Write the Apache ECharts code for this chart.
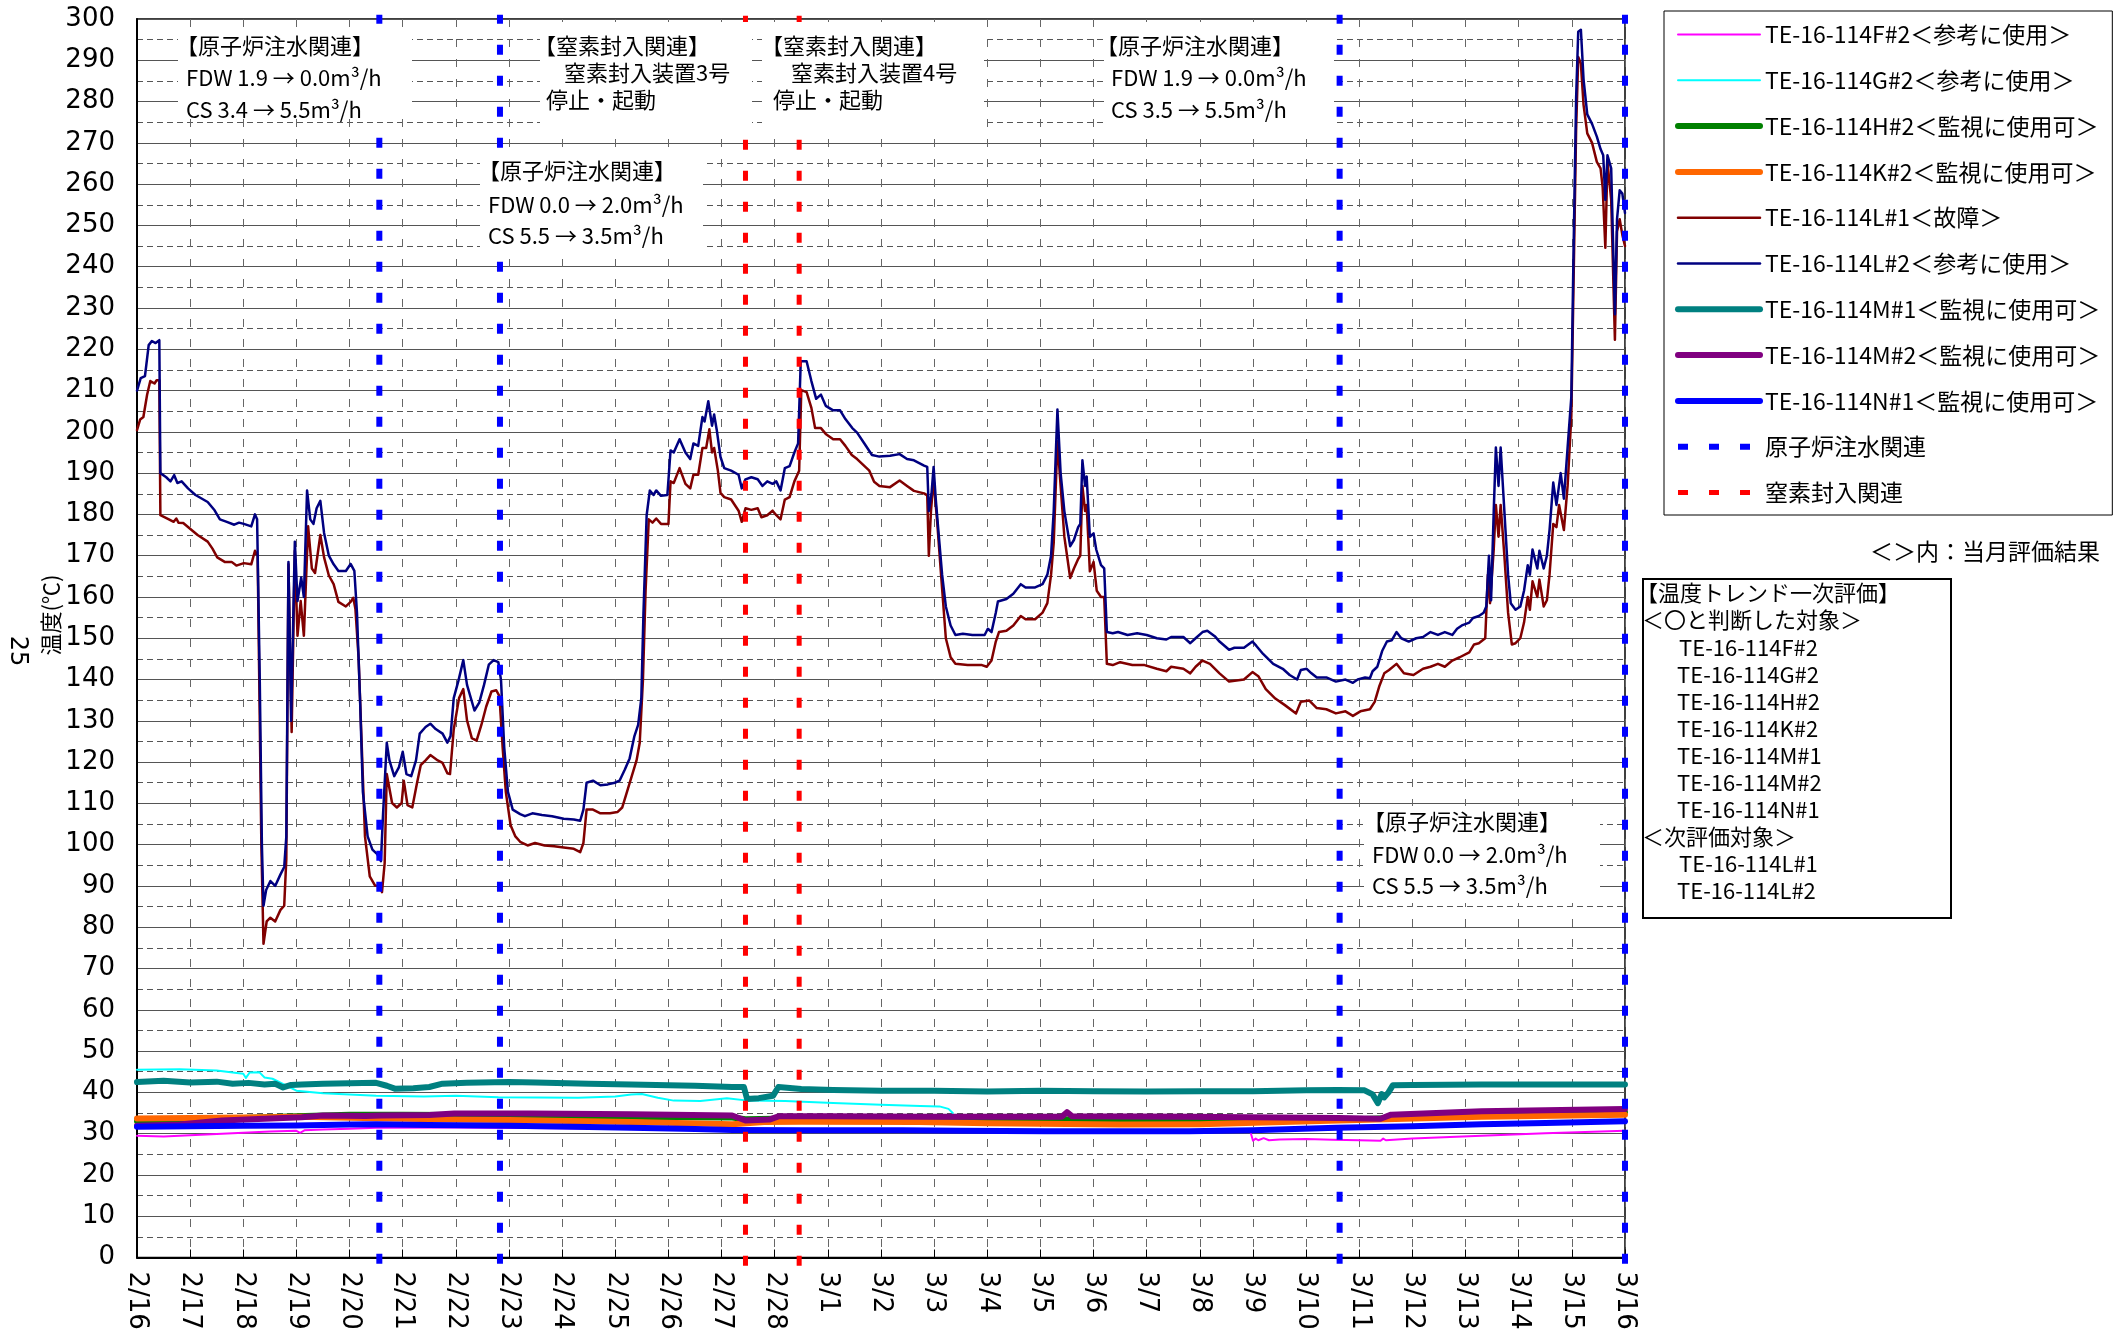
<!DOCTYPE html>
<html>
<head>
<meta charset="utf-8">
<title>温度トレンド</title>
<script src="https://cdn.jsdelivr.net/npm/echarts@6/dist/echarts.min.js"></script>
<style>
  html, body { margin: 0; padding: 0; background: #fff; }
  #chart { width: 2127px; height: 1340px; }
</style>
</head>
<body>
<div id="chart"></div>
<script>
// x = days after 2/16, y = temperature (℃)
const dateLabels = ['2/16','2/17','2/18','2/19','2/20','2/21','2/22','2/23','2/24','2/25','2/26','2/27','2/28',
  '3/1','3/2','3/3','3/4','3/5','3/6','3/7','3/8','3/9','3/10','3/11','3/12','3/13','3/14','3/15','3/16'];

const seriesNames = [
  'TE-16-114F#2＜参考に使用＞',
  'TE-16-114G#2＜参考に使用＞',
  'TE-16-114H#2＜監視に使用可＞',
  'TE-16-114K#2＜監視に使用可＞',
  'TE-16-114L#1＜故障＞',
  'TE-16-114L#2＜参考に使用＞',
  'TE-16-114M#1＜監視に使用可＞',
  'TE-16-114M#2＜監視に使用可＞',
  'TE-16-114N#1＜監視に使用可＞'
];
const injectName = '原子炉注水関連';
const nitrogenName = '窒素封入関連';

// event lines (days)
const injectDays = [4.56, 6.83, 22.63, 28.0];
const nitrogenDays = [11.45, 12.46];

const F2 = [[0,29.5],[0.5,29.3],[1,29.6],[1.5,29.9],[2,30.2],[2.5,30.5],[3.0,30.7],[3.07,30.2],[3.15,30.8],[3.5,31.0],[4.0,31.2],[4.5,31.4],[6,31.5],[8,31.3],[10,31.0],[12,30.9],[14,30.7],[16,30.6],[18,30.5],[20,30.6],[20.95,30.5],[21.0,28.3],[21.05,28.8],[21.1,28.4],[21.2,28.9],[21.3,28.4],[21.5,28.6],[22,28.7],[22.5,28.5],[23,28.4],[23.4,28.3],[23.45,28.8],[23.5,28.4],[24,28.8],[25.3,29.5],[26.5,30.1],[28,30.7]];

const G2 = [[0,45.5],[0.8,45.6],[1.5,45.3],[1.8,44.8],[2.0,44.5],[2.05,43.5],[2.12,44.8],[2.3,44.9],[2.4,43.6],[2.55,43.3],[3.0,40.4],[3.5,39.8],[4.5,39.2],[5.4,39.0],[6.0,39.2],[6.8,38.8],[8.3,38.7],[9.0,39.0],[9.3,39.5],[9.5,39.6],[9.8,38.7],[10.1,38.0],[10.6,37.9],[11.1,38.6],[11.5,38.0],[12.2,37.9],[13.1,37.4],[14.0,37.0],[14.74,36.7],[15.1,36.6],[15.27,36.0],[15.35,35.0]];

const H2 = [[0,33.0],[1,33.4],[2,33.8],[3,34.2],[4,34.6],[5,34.6],[6,34.5],[8,34.3],[10,34.0],[11.2,33.9],[11.45,33.5],[12,33.6],[13,33.7],[16,33.5],[20,33.4],[22.6,33.3],[23.35,33.7],[23.6,33.8],[25.3,34.6],[28,35.2]];

const K2 = [[0,33.7],[1,33.8],[2,33.9],[3.1,34.1],[4.5,33.7],[5.9,33.4],[7,33.3],[9.3,32.8],[11.2,32.3],[11.8,32.8],[12.5,32.9],[14.7,32.8],[16,32.5],[18.5,32.2],[20,32.3],[22.6,33.2],[25.3,34.1],[28,34.6]];

const L1 = [[0,200.4],[0.06,203],[0.12,203.6],[0.19,209],[0.25,212.3],[0.33,211.7],[0.37,212.5],[0.42,212.5],[0.44,179.8],[0.6,178.8],[0.69,178.2],[0.74,179],[0.78,178],[0.87,177.9],[1.01,176.4],[1.14,175],[1.33,173.4],[1.42,171.7],[1.51,169.6],[1.65,168.5],[1.78,168.5],[1.87,167.6],[2.01,168.2],[2.15,167.9],[2.22,171.2],[2.27,170],[2.3,140],[2.34,100],[2.38,76],[2.44,81.4],[2.51,82.3],[2.6,81.4],[2.7,84.2],[2.77,85.2],[2.81,96.6],[2.85,167.9],[2.91,127.3],[2.97,171.2],[3.02,150.6],[3.08,159],[3.14,150.6],[3.22,177.1],[3.29,166.9],[3.35,165.8],[3.45,175],[3.52,169.6],[3.61,165.2],[3.7,163.1],[3.79,158.8],[3.93,157.7],[4.02,158.8],[4.07,159.8],[4.11,157.1],[4.17,145.2],[4.23,123.6],[4.29,102],[4.38,92.3],[4.48,90.1],[4.57,89.9],[4.61,88.5],[4.66,95.5],[4.7,117.1],[4.8,110.1],[4.89,109],[4.98,110.1],[5.02,115.5],[5.09,109.6],[5.18,109],[5.27,115],[5.34,119.3],[5.43,120.4],[5.52,121.7],[5.66,120.4],[5.75,119.8],[5.84,117.3],[5.89,117.1],[5.96,127.9],[6.06,135.5],[6.14,137.7],[6.21,130.1],[6.3,125.8],[6.39,125.2],[6.48,129],[6.57,133.4],[6.67,137.1],[6.76,137.4],[6.82,136],[6.88,123.6],[6.94,112.8],[7.03,104.7],[7.12,102],[7.21,100.7],[7.35,99.8],[7.49,100.4],[7.67,99.8],[7.85,99.6],[8.03,99.3],[8.22,99],[8.34,98.2],[8.4,100.4],[8.46,108.5],[8.58,108.5],[8.72,107.6],[8.9,107.6],[9.04,107.9],[9.13,109],[9.22,112.8],[9.31,116.6],[9.4,120.4],[9.46,124.7],[9.52,139.8],[9.57,161.5],[9.63,178.8],[9.7,178],[9.77,179],[9.86,177.7],[10.0,177.7],[10.04,188],[10.1,187.6],[10.21,191.2],[10.32,187.4],[10.41,186.3],[10.47,189.6],[10.56,189.6],[10.64,196.1],[10.71,196.1],[10.77,200.6],[10.82,195],[10.86,196.1],[10.93,190.6],[10.98,185.2],[11.05,184.2],[11.18,183.6],[11.32,180.9],[11.38,178.2],[11.45,181.5],[11.56,181.1],[11.68,181.5],[11.75,179.3],[11.86,179.8],[11.96,180.9],[12.03,179.8],[12.11,178.8],[12.19,183.6],[12.28,184.2],[12.37,188],[12.46,190.6],[12.5,210.1],[12.6,209.6],[12.69,205.8],[12.76,200.9],[12.87,200.9],[12.96,199.5],[13.1,198.2],[13.23,198.2],[13.33,196.6],[13.45,194.4],[13.55,193.4],[13.69,191.7],[13.78,190.6],[13.87,187.9],[13.97,186.9],[14.17,186.6],[14.35,188.2],[14.49,186.9],[14.62,185.7],[14.81,185.1],[14.87,184.6],[14.9,170],[14.94,180.8],[14.99,188.5],[15.06,177.7],[15.13,165.4],[15.22,150],[15.31,145.4],[15.4,143.8],[15.63,143.5],[15.9,143.5],[15.99,143.1],[16.08,144.6],[16.16,149.2],[16.22,151.5],[16.36,151.8],[16.49,153.1],[16.63,155.4],[16.72,154.6],[16.9,154.6],[17.04,156.2],[17.13,158.5],[17.2,165.4],[17.25,173.1],[17.32,197.7],[17.38,186.9],[17.45,174.6],[17.56,164.6],[17.63,166.9],[17.71,169.2],[17.75,170],[17.79,186.9],[17.84,180.8],[17.87,182.3],[17.93,166.2],[18.0,168.5],[18.06,161.5],[18.14,160],[18.2,160],[18.25,143.8],[18.36,143.5],[18.5,144.2],[18.73,143.5],[18.96,143.5],[19.19,142.6],[19.37,142],[19.46,143.1],[19.69,142.6],[19.82,141.5],[19.92,143.1],[20.05,144.6],[20.19,143.8],[20.37,141.5],[20.55,139.5],[20.83,140],[20.99,141.8],[21.1,140.8],[21.24,137.7],[21.42,135.4],[21.6,133.8],[21.81,131.8],[21.9,134.6],[22.06,134.9],[22.2,133.1],[22.38,132.8],[22.56,131.8],[22.74,132.3],[22.88,131.2],[23.02,132.3],[23.2,132.8],[23.29,134.6],[23.38,138.5],[23.47,141.5],[23.56,142.3],[23.7,143.8],[23.84,141.5],[24.02,141.1],[24.2,142.6],[24.34,143.1],[24.48,143.8],[24.61,143.1],[24.75,144.6],[24.89,145.4],[25.07,146.6],[25.16,148.5],[25.25,148.8],[25.37,150],[25.42,165.4],[25.46,158.5],[25.53,171.5],[25.57,182.3],[25.62,174.6],[25.66,182.3],[25.73,170],[25.8,156.2],[25.87,148.5],[25.94,148.8],[26.03,150],[26.1,153.8],[26.17,160],[26.21,156.9],[26.26,163.8],[26.35,160],[26.39,164.2],[26.47,157.7],[26.53,159.2],[26.58,165.4],[26.65,177.7],[26.71,176.9],[26.76,182.3],[26.85,176.2],[26.92,186.9],[26.99,203.8],[27.03,234.6],[27.08,273.1],[27.12,290.8],[27.17,289.2],[27.22,279.2],[27.29,272.3],[27.38,270],[27.47,265.4],[27.54,263.8],[27.58,259.2],[27.63,244.6],[27.67,265.4],[27.74,256.2],[27.81,222.3],[27.85,248.5],[27.9,251.5],[27.95,247.7],[28.0,245]];

const L2 = [[0,210],[0.07,213],[0.15,213.5],[0.22,221],[0.28,222],[0.35,221.5],[0.42,222.2],[0.44,190],[0.55,189],[0.63,188],[0.7,189.5],[0.76,187.6],[0.84,188],[0.96,186.3],[1.1,184.7],[1.33,183],[1.46,181],[1.56,178.8],[1.69,178.2],[1.83,177.5],[1.92,178],[2.01,177.7],[2.15,177.1],[2.22,180],[2.26,178.8],[2.31,140],[2.35,100],[2.38,85.2],[2.43,89],[2.51,91.2],[2.6,90],[2.7,92.8],[2.77,94.6],[2.81,102],[2.85,168.5],[2.9,130],[2.97,173.4],[3.02,159],[3.09,164.7],[3.14,160],[3.2,185.8],[3.26,178.8],[3.32,177.7],[3.38,181.5],[3.45,183.3],[3.52,175.5],[3.61,170],[3.7,167.9],[3.79,166.3],[3.93,166.3],[4.02,168],[4.09,166.3],[4.14,156],[4.2,134],[4.25,112.8],[4.34,102],[4.43,98.8],[4.52,97.7],[4.59,96],[4.63,107.4],[4.7,124.7],[4.75,120.4],[4.84,116.6],[4.93,118.8],[5.0,122.5],[5.07,117.1],[5.16,116.6],[5.25,120.4],[5.32,126.9],[5.43,128.5],[5.52,129.3],[5.62,128],[5.75,126.9],[5.84,124.7],[5.9,126.3],[5.96,135.5],[6.05,139.8],[6.14,144.7],[6.21,138.7],[6.35,132.5],[6.44,134.4],[6.53,138.7],[6.62,143.6],[6.71,144.7],[6.8,144.2],[6.85,139.8],[6.91,123.6],[6.98,112.8],[7.07,108.5],[7.21,107.4],[7.3,106.9],[7.44,107.6],[7.62,107.2],[7.81,106.9],[8.03,106.3],[8.22,106.1],[8.34,105.8],[8.4,108.5],[8.46,115],[8.58,115.5],[8.72,114.4],[8.86,114.6],[8.99,115],[9.08,115.5],[9.18,118.2],[9.27,120.9],[9.36,126.3],[9.43,129],[9.49,135.5],[9.53,156],[9.59,179.8],[9.65,185.8],[9.72,184.7],[9.77,185.8],[9.86,184.5],[9.98,184.7],[10.04,195.5],[10.1,195],[10.21,198.2],[10.32,195],[10.41,193.4],[10.47,197.2],[10.56,196.6],[10.64,203.6],[10.68,202.5],[10.75,207.4],[10.82,201.5],[10.86,204.2],[10.91,200.4],[10.98,193.9],[11.05,191.2],[11.18,190.6],[11.32,189.6],[11.38,186.3],[11.45,188.5],[11.56,189],[11.68,188.5],[11.77,186.9],[11.86,188],[11.96,187.4],[12.03,188],[12.11,185.8],[12.19,191.2],[12.28,191.7],[12.37,195],[12.44,197.2],[12.49,217.1],[12.6,217.1],[12.69,212.3],[12.78,208],[12.87,209],[12.96,206.3],[13.1,205.2],[13.23,205.2],[13.33,203.1],[13.46,200.9],[13.55,199.8],[13.69,197.1],[13.83,194.4],[13.97,194],[14.17,194.2],[14.35,194.6],[14.49,193.4],[14.62,193.1],[14.81,191.8],[14.87,191.5],[14.9,180.8],[14.95,185],[14.99,191.5],[15.03,183.8],[15.08,176],[15.15,165.4],[15.22,157.7],[15.31,153.1],[15.4,150.8],[15.54,151.1],[15.72,150.8],[15.95,150.8],[16.01,152.3],[16.08,151.5],[16.16,156.2],[16.2,158.9],[16.36,159.5],[16.49,160.8],[16.63,163.1],[16.72,162.3],[16.9,162.3],[17.04,163.1],[17.13,165.4],[17.2,170],[17.25,180.8],[17.32,205.4],[17.38,190],[17.45,180.8],[17.56,172.3],[17.63,173.8],[17.71,176.9],[17.75,177.7],[17.79,193.1],[17.84,186.9],[17.87,189.2],[17.93,174.6],[18.0,175.4],[18.05,171.5],[18.14,167.7],[18.2,166.9],[18.25,151.5],[18.36,151.2],[18.46,151.5],[18.64,150.8],[18.82,151.2],[19.0,150.8],[19.19,150],[19.37,149.7],[19.46,150.3],[19.69,150.3],[19.82,148.8],[19.92,150],[20.05,151.5],[20.14,151.8],[20.28,150.5],[20.37,149.2],[20.55,147.2],[20.65,147.7],[20.83,147.7],[20.99,149.2],[21.06,148.2],[21.19,146.2],[21.38,143.8],[21.56,142.6],[21.69,141.1],[21.83,140],[21.9,142.3],[22.01,142.6],[22.1,141.5],[22.2,140.5],[22.38,140.5],[22.56,139.5],[22.74,140],[22.88,139.2],[22.97,140],[23.11,140.5],[23.2,140.3],[23.25,142],[23.34,143.1],[23.43,146.9],[23.52,149.2],[23.61,149.5],[23.7,151.5],[23.79,150],[23.93,149.2],[24.07,150],[24.2,150.3],[24.34,151.5],[24.48,150.8],[24.61,151.5],[24.75,150.8],[24.84,152.3],[24.93,153.1],[25.07,153.8],[25.14,154.9],[25.25,155.4],[25.34,156.2],[25.39,157.7],[25.44,170],[25.48,159.2],[25.53,180.8],[25.57,196.2],[25.62,186.9],[25.66,196.2],[25.73,180.8],[25.8,165.4],[25.85,158.5],[25.94,156.9],[26.03,157.7],[26.1,161.5],[26.17,167.7],[26.21,165.4],[26.26,171.5],[26.35,166.9],[26.39,171.2],[26.47,166.9],[26.53,170],[26.58,176.2],[26.65,187.7],[26.71,182.3],[26.79,190],[26.85,183.8],[26.92,196.2],[26.99,208.5],[27.03,242.3],[27.08,280.8],[27.12,296.9],[27.17,297.4],[27.22,285.4],[27.29,276.9],[27.38,274.6],[27.47,271.5],[27.54,268.5],[27.59,267],[27.63,256.2],[27.67,267],[27.74,263.8],[27.81,228.5],[27.85,251.5],[27.9,258.5],[27.95,257.7],[28.0,253]];

const M1 = [[0,42.5],[0.5,42.8],[1,42.4],[1.5,42.6],[1.8,42.1],[2.1,42.3],[2.4,41.9],[2.6,42.1],[2.75,41.2],[2.9,41.8],[3.1,41.9],[3.5,42.1],[4,42.2],[4.5,42.3],[4.7,41.6],[4.85,40.9],[5.2,41.0],[5.5,41.3],[5.75,42.1],[6.2,42.3],[7,42.5],[7.5,42.4],[8.5,42.1],[9.3,41.9],[10,41.7],[10.5,41.6],[11.2,41.3],[11.42,41.3],[11.48,38.4],[11.7,38.6],[11.97,39.2],[12.07,41.3],[12.5,40.8],[13.1,40.6],[14,40.4],[15,40.4],[16,40.2],[17,40.4],[18,40.3],[19,40.2],[20,40.3],[21,40.3],[22,40.5],[22.6,40.6],[23.1,40.5],[23.25,39.5],[23.35,37.4],[23.42,39.6],[23.47,38.8],[23.55,40.0],[23.63,41.7],[24,41.8],[25.3,41.9],[26.5,41.9],[28,41.9]];

const M2 = [[0,31.9],[0.8,32.2],[1.6,33.2],[2.4,33.6],[3.1,34.0],[3.5,34.4],[4.3,34.3],[4.6,34.4],[5.5,34.5],[5.97,34.9],[7.4,34.9],[9.3,34.7],[11.2,34.4],[11.45,33.2],[11.9,33.4],[12.07,34.2],[13,34.2],[14.7,34.1],[16,34.1],[17.4,34.1],[17.5,35.2],[17.6,34.2],[19.8,34.1],[22.6,33.8],[23.4,33.6],[23.6,34.6],[25.3,35.4],[28,36.0]];

const N1 = [[0,31.7],[1,31.8],[2,31.9],[3,32.0],[4,32.2],[4.5,32.3],[5.5,32.1],[7,31.9],[8.5,31.6],[9.3,31.4],[10.5,31.1],[11.2,30.9],[12.5,30.8],[14.4,30.8],[15.5,30.7],[17.1,30.6],[18.5,30.6],[19.8,30.6],[21,30.8],[22.57,31.4],[24,31.8],[25.3,32.3],[26.5,32.6],[28,33.0]];

const JP = "'Noto Sans CJK JP', sans-serif";
const NUM = "'DejaVu Sans', sans-serif";

function lineSeries(name, data, color, width) {
  return {
    name: name, type: 'line', data: data, symbol: 'none', animation: false,
    lineStyle: { color: color, width: width, cap: 'round', join: 'round' },
    itemStyle: { color: color }
  };
}

// vertical dashed event lines, drawn a bit past the plot edges
function eventSeries(name, days, color, width, lo, hi) {
  const data = [];
  days.forEach(function (d) { data.push([d, lo], [d, hi], [d, '-']); });
  return {
    name: name, type: 'line', data: data, symbol: 'none', clip: false, animation: false,
    lineStyle: { color: color, width: width, type: [10, 21], cap: 'butt' },
    itemStyle: { color: color }
  };
}

// annotation boxes: white background + text lines
const notes = [
  { box: [178, 27, 234, 92], lines: [['【原子炉注水関連】', 176, 46], ['FDW 1.9 → 0.0m³/h', 186, 78], ['CS 3.4 → 5.5m³/h', 186, 110]] },
  { box: [540, 22, 212, 106], lines: [['【窒素封入関連】', 534, 46], ['窒素封入装置3号', 564, 73], ['停止・起動', 546, 100]] },
  { box: [762, 22, 222, 106], lines: [['【窒素封入関連】', 761, 46], ['窒素封入装置4号', 791, 73], ['停止・起動', 773, 100]] },
  { box: [1104, 22, 230, 108], lines: [['【原子炉注水関連】', 1096, 46], ['FDW 1.9 → 0.0m³/h', 1111, 78], ['CS 3.5 → 5.5m³/h', 1111, 110]] },
  { box: [480, 148, 223, 106], lines: [['【原子炉注水関連】', 478, 171], ['FDW 0.0 → 2.0m³/h', 488, 205], ['CS 5.5 → 3.5m³/h', 488, 236]] },
  { box: [1364, 806, 236, 97], lines: [['【原子炉注水関連】', 1363, 822], ['FDW 0.0 → 2.0m³/h', 1372, 855], ['CS 5.5 → 3.5m³/h', 1372, 886]] }
];

const evalLines = [
  ['【温度トレンド一次評価】', 1636],
  ['＜〇と判断した対象＞', 1642],
  ['TE-16-114F#2', 1679],
  ['TE-16-114G#2', 1677],
  ['TE-16-114H#2', 1677],
  ['TE-16-114K#2', 1677],
  ['TE-16-114M#1', 1677],
  ['TE-16-114M#2', 1677],
  ['TE-16-114N#1', 1677],
  ['＜次評価対象＞', 1642],
  ['TE-16-114L#1', 1679],
  ['TE-16-114L#2', 1677]
];

function textEl(text, x, y, opts) {
  opts = opts || {};
  return {
    type: 'text', x: x, y: y, z: 101, rotation: opts.rotation || 0,
    style: {
      text: text, fill: '#000', fontSize: opts.fontSize || 22, fontFamily: opts.fontFamily || JP,
      align: opts.align || 'left', textAlign: opts.align || 'left',
      verticalAlign: 'middle', textVerticalAlign: 'middle'
    }
  };
}

const graphics = [];
notes.forEach(function (n) {
  graphics.push({ type: 'rect', z: 100, shape: { x: n.box[0], y: n.box[1], width: n.box[2], height: n.box[3] }, style: { fill: '#fff' } });
  n.lines.forEach(function (l) { graphics.push(textEl(l[0], l[1], l[2])); });
});
graphics.push({ type: 'rect', z: 100, shape: { x: 1643, y: 579, width: 308, height: 339 }, style: { fill: '#fff', stroke: '#000', lineWidth: 2 } });
evalLines.forEach(function (l, i) { graphics.push(textEl(l[0], l[1], 593 + i * 27.1, { fontSize: 22 })); });
graphics.push(textEl('＜＞内：当月評価結果', 2100, 551, { align: 'right', fontSize: 23 }));
graphics.push(textEl('温度(℃)', 51, 615, { rotation: Math.PI / 2, align: 'center', fontSize: 22 }));
graphics.push(textEl('25', 17, 651, { rotation: -Math.PI / 2, align: 'center', fontSize: 24, fontFamily: NUM }));

const chart = echarts.init(document.getElementById('chart'));
chart.setOption({
  animation: false,
  backgroundColor: '#fff',
  grid: {
    left: 137, top: 19, right: 502, bottom: 82.5,
    show: true, borderColor: '#000', borderWidth: 1.5,
    containLabel: false, outerBoundsMode: 'none'
  },
  legend: {
    orient: 'vertical', left: 1664, top: 11,
    data: seriesNames.concat([injectName, nitrogenName]),
    itemWidth: 82, itemHeight: 14, itemGap: 22.8,
    padding: [12, 12, 11, 11],
    borderColor: '#000', borderWidth: 1, backgroundColor: '#fff',
    itemStyle: { opacity: 0 },
    lineStyle: { width: 'inherit', cap: 'inherit', type: 'inherit' },
    textStyle: { fontSize: 23, lineHeight: 22, color: '#000', fontFamily: JP },
    selectedMode: false
  },
  xAxis: {
    type: 'value', min: 0, max: 28, interval: 1,
    axisLine: { lineStyle: { color: '#000', width: 2 } },
    axisTick: { show: true, inside: true, length: 8, lineStyle: { color: '#000' } },
    axisLabel: {
      rotate: -90, margin: 14, color: '#000', fontSize: 26, fontFamily: NUM,
      formatter: function (v) { return dateLabels[Math.round(v)] || ''; }
    },
    splitLine: { show: true, lineStyle: { color: '#666', width: 1, type: [8, 12] } }
  },
  yAxis: {
    type: 'value', min: 0, max: 300, interval: 10,
    axisLine: { show: true, lineStyle: { color: '#000', width: 2 } },
    axisTick: { show: false },
    axisLabel: { margin: 22, color: '#000', fontSize: 26, fontFamily: NUM },
    splitLine: { show: true, lineStyle: { color: '#555', width: 1 } },
    minorTick: { show: false, splitNumber: 2 },
    minorSplitLine: { show: true, lineStyle: { color: '#555', width: 1, type: [6, 4] } }
  },
  series: [
    lineSeries(seriesNames[0], F2, '#FF00FF', 2),
    lineSeries(seriesNames[1], G2, '#00FFFF', 2),
    lineSeries(seriesNames[2], H2, '#008000', 6),
    lineSeries(seriesNames[3], K2, '#FF6600', 6),
    lineSeries(seriesNames[4], L1, '#800000', 2.5),
    lineSeries(seriesNames[5], L2, '#000080', 2.5),
    lineSeries(seriesNames[6], M1, '#008080', 6),
    lineSeries(seriesNames[7], M2, '#800080', 6),
    lineSeries(seriesNames[8], N1, '#0000FF', 6),
    eventSeries(injectName, injectDays, '#0000FF', 6, -1.5, 301),
    eventSeries(nitrogenName, nitrogenDays, '#FF0000', 5, -2, 303)
  ],
  graphic: { elements: graphics }
});
</script>
</body>
</html>
